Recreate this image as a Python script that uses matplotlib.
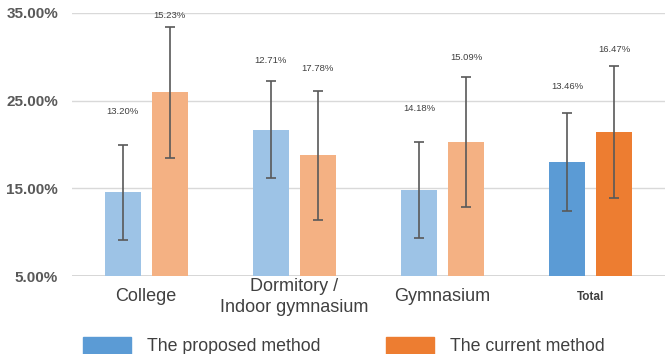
import numpy as np
import matplotlib.pyplot as plt
from matplotlib.ticker import FuncFormatter

plt.rcParams['font.family'] = ['Liberation Sans', 'DejaVu Sans']

# --- data ---
categories = ['College', 'Dormitory /\nIndoor gymnasium', 'Gymnasium', 'Total']
proposed = [14.55, 21.7, 14.8, 18.0]
proposed_err = [5.45, 5.5, 5.45, 5.55]
current = [25.95, 18.75, 20.3, 21.4]
current_err = [7.45, 7.4, 7.4, 7.5]
proposed_labels = ['13.20%', '12.71%', '14.18%', '13.46%']
current_labels = ['15.23%', '17.78%', '15.09%', '16.47%']
yticks = [5, 15, 25, 35]

# colours: light tones for the groups, strong tones for Total
c_blue_light, c_blue = '#9DC3E6', '#5B9BD5'
c_orange_light, c_orange = '#F4B183', '#ED7D31'
c_err = '#595959'

fig = plt.figure(figsize=(6.72, 3.54), dpi=100)
ax = fig.add_axes([72 / 672, 1 - 276 / 354, (665 - 72) / 672, (276 - 13) / 354])

x = np.arange(len(categories))
w, off = 0.243, 0.158
blue_cols = [c_blue_light] * (len(x) - 1) + [c_blue]
orange_cols = [c_orange_light] * (len(x) - 1) + [c_orange]

err_kw = dict(ecolor=c_err, elinewidth=1.2, capsize=3.5, capthick=1.2)
ax.bar(x - off, proposed, w, bottom=0, color=blue_cols, yerr=proposed_err, error_kw=err_kw, zorder=2)
ax.bar(x + off, current, w, bottom=0, color=orange_cols, yerr=current_err, error_kw=err_kw, zorder=2)

# value labels sit above the error bar caps (offsets in points)
p_offsets = [24, 15, 24, 19]
c_offsets = [8, 16, 14, 12]
for i in range(len(x)):
    ax.annotate(proposed_labels[i], (x[i] - off, proposed[i] + proposed_err[i]),
                xytext=(0, p_offsets[i]), textcoords='offset points',
                ha='center', va='center', fontsize=6.8, color='#404040')
    ax.annotate(current_labels[i], (x[i] + off, current[i] + current_err[i]),
                xytext=(0, c_offsets[i]), textcoords='offset points',
                ha='center', va='center', fontsize=6.8, color='#404040')

ax.set_xlim(-0.5, len(x) - 0.5)
ax.set_ylim(5, 35)
ax.set_yticks(yticks)
ax.yaxis.set_major_formatter(FuncFormatter(lambda v, p: f'{v:.2f}%'))
ax.grid(axis='y', color='#D9D9D9', linewidth=1, zorder=0)
for s in ax.spines.values():
    s.set_visible(False)
ax.axhline(5, color='#D0D0D0', linewidth=1.2, zorder=1)
ax.tick_params(axis='y', length=0, pad=10, labelsize=11, labelcolor='#595959')
for t in ax.get_yticklabels():
    t.set_fontweight('bold')

ax.set_xticks(x)
ax.set_xticklabels(categories, color='#404040', va='center')
ax.tick_params(axis='x', length=0, pad=15, labelsize=13)
tl = ax.get_xticklabels()
tl[1].set_linespacing(1.35)
tl[-1].set_fontsize(8.5)
tl[-1].set_fontweight('bold')

handles = [plt.Rectangle((0, 0), 1, 1, color=c_blue), plt.Rectangle((0, 0), 1, 1, color=c_orange)]
fig.legend(handles, ['The proposed method', 'The current method'], loc='center left',
           bbox_to_anchor=(83 / 672, 1 - 346 / 354), ncol=2, frameon=False, fontsize=12.8,
           handlelength=2.7, handleheight=1.1, handletextpad=0.9, columnspacing=3.7,
           labelcolor='#404040', borderaxespad=0, borderpad=0)

fig.savefig('out.png', dpi=100)
